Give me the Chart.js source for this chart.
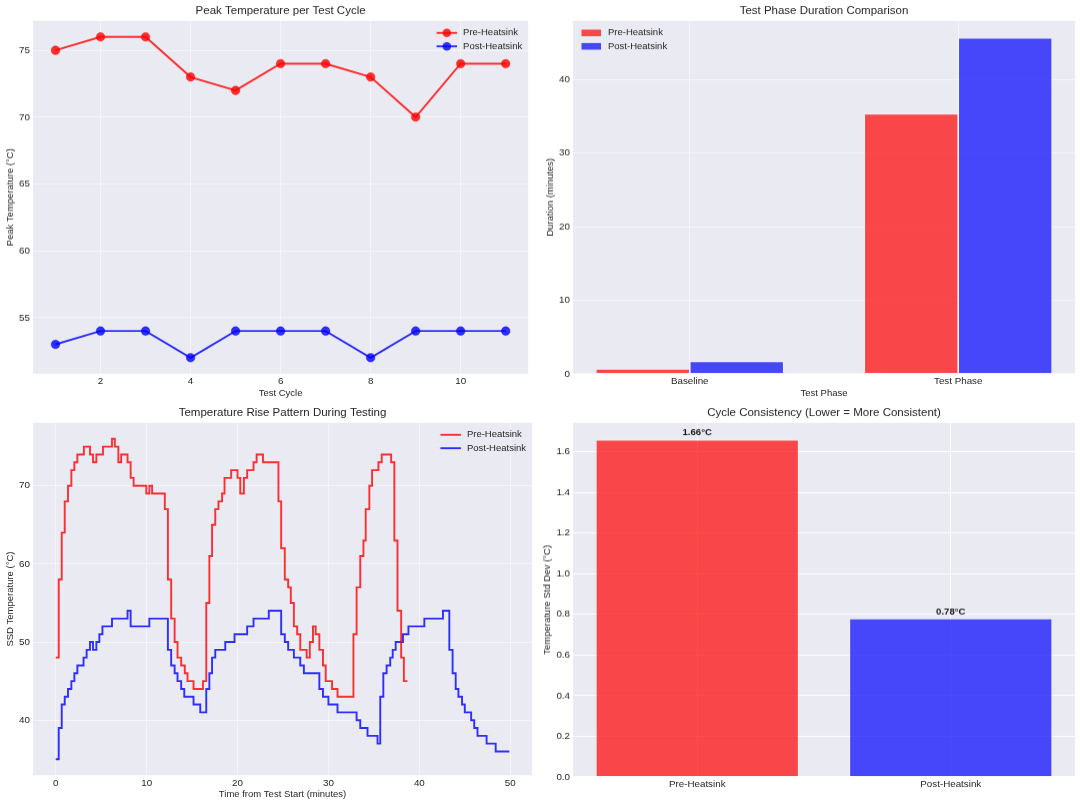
<!DOCTYPE html>
<html>
<head>
<meta charset="utf-8">
<script src="https://cdn.jsdelivr.net/npm/chart.js@4.4.0/dist/chart.umd.min.js"></script>
<style>
html, body { margin: 0; padding: 0; background: #fff; }
body { width: 1080px; height: 807px; position: relative; overflow: hidden; }
.box { position: absolute; }
</style>
</head>
<body>
<div class="box" id="boxPeak"><canvas id="peakChart"></canvas></div>
<div class="box" id="boxPhase"><canvas id="phaseChart"></canvas></div>
<div class="box" id="boxRise"><canvas id="riseChart"></canvas></div>
<div class="box" id="boxStd"><canvas id="stdChart"></canvas></div>
<script>
// peak temperature per cycle
var cycles = [1, 2, 3, 4, 5, 6, 7, 8, 9, 10, 11];
var prePeak = [75, 76, 76, 73, 72, 74, 74, 73, 70, 74, 74];
var postPeak = [53, 54, 54, 52, 54, 54, 54, 52, 54, 54, 54];

// phase durations (minutes)
var phases = ['Baseline', 'Test Phase'];
var preDuration = [0.67, 35.37];
var postDuration = [1.67, 45.7];

// temperature log (minutes from start, °C) - each value holds until the next time
var preTime = [0, 0.33, 0.66, 0.99, 1.35, 1.72, 2.05, 2.38, 3.1, 3.77, 4.1, 4.47, 5.2, 6.19, 6.5, 6.89, 7.2, 7.9, 8.24, 8.57,
  9.96, 10.3, 10.6, 12.0, 12.34, 12.7, 13.08, 13.4, 13.8, 14.2, 14.5, 15.16, 16.2, 16.56, 16.9, 17.2, 17.55, 17.9, 18.3, 18.57,
  19.3, 20.0, 20.3, 20.7, 21.06, 21.76, 22.1, 22.8, 24.5, 24.8, 25.2, 25.57, 25.86, 26.2, 26.56, 26.9, 27.6, 27.95, 28.3, 28.6,
  29.0, 29.4, 29.7, 30.4, 31.0, 32.75, 33.1, 33.5, 33.85, 34.1, 34.5, 34.8, 35.5, 35.86, 36.9, 37.25, 37.6, 38.0, 38.3, 38.7];
var preTemp = [48, 58, 64, 68, 70, 72, 73, 74, 75, 74, 73, 74, 75, 76, 75, 73, 74, 73, 71, 70,
  69, 70, 69, 67, 58, 53, 50, 48, 47, 46, 45, 44, 45, 55, 61, 65, 67, 68, 69, 71,
  72, 71, 69, 71, 72, 73, 74, 73, 68, 62, 58, 57, 55, 52, 51, 49, 48, 50, 52, 51,
  49, 47, 45, 44, 43, 51, 57, 61, 63, 67, 70, 72, 73, 74, 73, 63, 54, 48, 45, 45];
var postTime = [0, 0.33, 0.66, 0.99, 1.35, 1.72, 2.05, 2.38, 3.06, 3.4, 3.77, 4.1, 4.47, 4.8, 5.14, 6.19, 7.9, 8.24,
  10.3, 12.34, 12.7, 13.08, 13.4, 13.8, 14.14, 15.16, 15.9, 16.56, 16.9, 17.2, 17.55, 18.65, 19.67, 21.06, 21.76, 23.44,
  24.8, 25.2, 25.57, 26.2, 26.9, 27.3, 29.0, 29.4, 30.0, 31.0, 33.1, 33.5, 34.3, 35.4, 35.7, 36.04, 36.4, 36.8,
  37.07, 37.4, 38.2, 38.8, 40.55, 42.6, 43.3, 43.66, 44.0, 44.3, 44.7, 45.0, 45.7, 46.04, 46.4, 47.4, 48.4, 49.9];
var postTemp = [35, 39, 42, 43, 44, 45, 46, 47, 48, 49, 50, 49, 50, 51, 52, 53, 54, 52,
  53, 49, 47, 46, 45, 44, 43, 42, 41, 44, 46, 48, 49, 50, 51, 52, 53, 54,
  51, 50, 49, 48, 47, 46, 44, 43, 42, 41, 40, 39, 38, 37, 43, 46, 47, 48,
  49, 50, 51, 52, 53, 54, 49, 46, 44, 43, 42, 41, 40, 39, 38, 37, 36, 36];

// cycle consistency
var groups = ['Pre-Heatsink', 'Post-Heatsink'];
var cycleStd = [1.66, 0.78];

var RED = 'rgba(255,0,0,0.8)';
var BLUE = 'rgba(0,0,255,0.8)';
var RED_BAR = 'rgba(255,0,0,0.7)';
var BLUE_BAR = 'rgba(0,0,255,0.7)';
var FONT = '"Liberation Sans", Arial, Helvetica, sans-serif';
var TEXT = '#262626';
var FAINT = 'rgba(255,255,255,0.5)';
var TITLE_H = 18.8;
var Y_W = 33;

Chart.defaults.font.family = FONT;
Chart.defaults.font.size = 9.8;
Chart.defaults.color = TEXT;
Chart.defaults.animation = false;
Chart.defaults.events = [];
Chart.defaults.plugins.legend.display = false;
Chart.defaults.plugins.tooltip.enabled = false;

// grey plot background like seaborn darkgrid
Chart.register({
  id: 'plotBg',
  beforeDraw: function (chart) {
    var a = chart.chartArea, ctx = chart.ctx;
    ctx.save();
    ctx.fillStyle = '#EAEAF2';
    ctx.fillRect(a.left, a.top, a.right - a.left, a.bottom - a.top);
    ctx.restore();
  }
});

// legend drawn inside the plot area
Chart.register({
  id: 'innerLegend',
  afterDatasetsDraw: function (chart, args, opts) {
    if (!opts || !opts.side) return;
    var ctx = chart.ctx, a = chart.chartArea;
    var items = chart.data.datasets.map(function (d) {
      return { text: d.label, color: opts.kind === 'box' ? d.backgroundColor : d.borderColor };
    });
    ctx.save();
    ctx.font = '9.5px ' + FONT;
    var tw = Math.max.apply(null, items.map(function (it) { return ctx.measureText(it.text).width; }));
    var hw = opts.kind === 'box' ? 19.5 : 20.5;
    var gap = opts.kind === 'box' ? 7 : 6;
    var x0 = opts.side === 'right' ? a.right - 6 - tw - gap - hw : a.left + 8.5;
    items.forEach(function (it, i) {
      var y = a.top + 12 + i * 13.4;
      if (opts.kind === 'box') {
        ctx.fillStyle = it.color;
        ctx.fillRect(x0, y - 3.3, hw, 6.6);
      } else {
        ctx.strokeStyle = it.color;
        ctx.lineWidth = 1.9;
        ctx.beginPath();
        ctx.moveTo(x0, y);
        ctx.lineTo(x0 + hw, y);
        ctx.stroke();
        if (opts.kind === 'marker') {
          ctx.fillStyle = it.color;
          ctx.beginPath();
          ctx.arc(x0 + hw / 2, y, 4.3, 0, Math.PI * 2);
          ctx.fill();
        }
      }
      ctx.fillStyle = TEXT;
      ctx.textAlign = 'left';
      ctx.textBaseline = 'middle';
      ctx.fillText(it.text, x0 + hw + gap, y);
    });
    ctx.restore();
  }
});

function place(id, area, xH) {
  var el = document.getElementById(id);
  var left = area[0] - Y_W, top = area[1] - TITLE_H;
  el.style.left = left + 'px';
  el.style.top = top + 'px';
  el.style.width = (area[2] - left) + 'px';
  el.style.height = (area[3] + xH - top) + 'px';
}

function chartTitle(text) {
  return { display: true, text: text, fullSize: false, color: TEXT,
    font: { size: 11.5, weight: 'normal' }, padding: { top: 2, bottom: 3 } };
}

function yScale(o) {
  var s = {
    type: 'linear', position: 'left', min: o.min, max: o.max,
    border: { display: false },
    grid: { color: o.grid, lineWidth: 1, drawTicks: false },
    ticks: { stepSize: o.step, includeBounds: false, padding: 3 },
    title: { display: true, text: o.title, font: { size: 9.5 }, padding: { top: o.titlePad, bottom: 0 } },
    afterFit: function (scale) { scale.width = Y_W; }
  };
  if (o.fmt) s.ticks.callback = o.fmt;
  return s;
}

function xScale(o) {
  var s = {
    type: 'linear', position: 'bottom', min: o.min, max: o.max, offset: false,
    border: { display: false },
    grid: { color: o.grid, lineWidth: 1, drawTicks: false, offset: false },
    ticks: { stepSize: o.step, includeBounds: false, padding: 2, maxRotation: 0 },
    title: { display: !!o.title, text: o.title || '', font: { size: 9.5 }, padding: { top: 0, bottom: o.titlePad || 0 } },
    afterFit: function (scale) { scale.height = o.height; }
  };
  if (o.fmt) s.ticks.callback = o.fmt;
  return s;
}

function xy(xs, ys) {
  return xs.map(function (x, i) { return { x: x, y: ys[i] }; });
}

// 1. peak temperature per cycle
place('boxPeak', [33, 21, 533, 373], 25);
new Chart(document.getElementById('peakChart'), {
  type: 'line',
  data: {
    datasets: [
      { label: 'Pre-Heatsink', data: xy(cycles, prePeak), borderColor: RED, backgroundColor: RED,
        pointBackgroundColor: RED, pointBorderColor: RED, borderWidth: 1.9, pointRadius: 4.3, pointBorderWidth: 0.5, tension: 0 },
      { label: 'Post-Heatsink', data: xy(cycles, postPeak), borderColor: BLUE, backgroundColor: BLUE,
        pointBackgroundColor: BLUE, pointBorderColor: BLUE, borderWidth: 1.9, pointRadius: 4.3, pointBorderWidth: 0.5, tension: 0 }
    ]
  },
  options: {
    responsive: true, maintainAspectRatio: false,
    plugins: { title: chartTitle('Peak Temperature per Test Cycle'), innerLegend: { side: 'right', kind: 'marker' } },
    scales: {
      x: xScale({ min: 0.5, max: 11.5, step: 2, grid: FAINT, title: 'Test Cycle', height: 25 }),
      y: yScale({ min: 50.8, max: 77.2, step: 5, grid: FAINT, title: 'Peak Temperature (°C)', titlePad: 4.6 })
    }
  }
});

// 2. test phase durations
place('boxPhase', [573, 21, 1075, 373], 25);
new Chart(document.getElementById('phaseChart'), {
  type: 'bar',
  data: {
    datasets: [
      { label: 'Pre-Heatsink', data: xy([0, 1], preDuration), backgroundColor: RED_BAR,
        borderColor: 'rgba(255,255,255,0.6)', borderWidth: 0.8 },
      { label: 'Post-Heatsink', data: xy([0, 1], postDuration), backgroundColor: BLUE_BAR,
        borderColor: 'rgba(255,255,255,0.6)', borderWidth: 0.8 }
    ]
  },
  options: {
    responsive: true, maintainAspectRatio: false,
    categoryPercentage: 0.7, barPercentage: 1.0,
    plugins: { title: chartTitle('Test Phase Duration Comparison'), innerLegend: { side: 'left', kind: 'box' } },
    scales: {
      x: xScale({ min: -0.435, max: 1.435, step: 1, grid: FAINT, title: 'Test Phase', height: 25,
        fmt: function (v) { return phases[v] !== undefined ? phases[v] : ''; } }),
      y: yScale({ min: 0, max: 47.99, step: 10, grid: FAINT, title: 'Duration (minutes)', titlePad: 4.2 })
    }
  }
});

// 3. temperature rise pattern
place('boxRise', [33, 423, 533, 775.5], 26);
new Chart(document.getElementById('riseChart'), {
  type: 'line',
  data: {
    datasets: [
      { label: 'Pre-Heatsink', data: xy(preTime, preTemp), borderColor: RED, borderWidth: 1.9,
        pointRadius: 0, stepped: 'before' },
      { label: 'Post-Heatsink', data: xy(postTime, postTemp), borderColor: BLUE, borderWidth: 1.9,
        pointRadius: 0, stepped: 'before' }
    ]
  },
  options: {
    responsive: true, maintainAspectRatio: false,
    plugins: { title: chartTitle('Temperature Rise Pattern During Testing'), innerLegend: { side: 'right', kind: 'line' } },
    scales: {
      x: xScale({ min: -2.5, max: 52.4, step: 10, grid: FAINT, title: 'Time from Test Start (minutes)', height: 26, titlePad: 0.9 }),
      y: yScale({ min: 32.95, max: 78.05, step: 10, grid: FAINT, title: 'SSD Temperature (°C)', titlePad: 4.6 })
    }
  }
});

// 4. cycle consistency
place('boxStd', [573, 423, 1075, 776], 20);
new Chart(document.getElementById('stdChart'), {
  type: 'bar',
  data: {
    datasets: [
      { label: 'Std Dev', data: xy([0, 1], cycleStd), backgroundColor: [RED_BAR, BLUE_BAR],
        borderColor: 'rgba(255,255,255,0.6)', borderWidth: 0.8 }
    ]
  },
  options: {
    responsive: true, maintainAspectRatio: false,
    categoryPercentage: 0.8, barPercentage: 1.0,
    plugins: { title: chartTitle('Cycle Consistency (Lower = More Consistent)') },
    scales: {
      x: xScale({ min: -0.49, max: 1.49, step: 1, grid: '#ffffff', height: 20,
        fmt: function (v) { return groups[v] !== undefined ? groups[v] : ''; } }),
      y: yScale({ min: 0, max: 1.743, step: 0.2, grid: '#ffffff', title: 'Temperature Std Dev (°C)', titlePad: 1.8,
        fmt: function (v) { return v.toFixed(1); } })
    }
  },
  plugins: [{
    id: 'barValueLabels',
    afterDatasetsDraw: function (chart) {
      var ctx = chart.ctx;
      var meta = chart.getDatasetMeta(0);
      ctx.save();
      ctx.font = 'bold 9.6px ' + FONT;
      ctx.fillStyle = '#1a1a1a';
      ctx.textAlign = 'center';
      ctx.textBaseline = 'bottom';
      meta.data.forEach(function (bar, i) {
        ctx.fillText(cycleStd[i].toFixed(2) + '°C', bar.x, bar.y - 2);
      });
      ctx.restore();
    }
  }]
});
</script>
</body>
</html>
